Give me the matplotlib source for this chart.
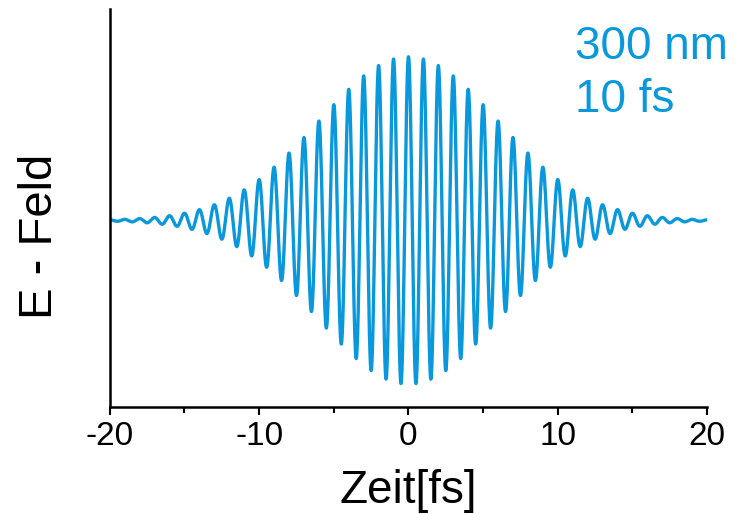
import numpy as np
import matplotlib
matplotlib.use("Agg")
import matplotlib.pyplot as plt
from matplotlib.ticker import MultipleLocator

plt.rcParams['font.family'] = ['Liberation Sans', 'DejaVu Sans']
plt.rcParams['axes.unicode_minus'] = False

# pulse parameters (from the chart's labels)
wavelength_nm = 300
duration_fs = 10          # intensity FWHM
t_start, t_stop = -20, 20
x_ticks = [-20, -10, 0, 10, 20]
blue = '#0a98dc'

c_nm_per_fs = 299.792458
period = wavelength_nm / c_nm_per_fs
t = np.linspace(t_start, t_stop, 4000)
envelope = np.exp(-2 * np.log(2) * t**2 / duration_fs**2)
field = envelope * np.cos(2 * np.pi * t / period)

fig = plt.figure(figsize=(7.42, 5.14), dpi=100)
ax = fig.add_axes([0.148, 0.208, 0.805, 0.774])
ax.plot(t, field, color=blue, lw=2.4)

ax.set_xlim(t_start, t_stop)
ax.set_ylim(-1.14, 1.29)
ax.set_xticks(x_ticks)
ax.xaxis.set_minor_locator(MultipleLocator(5))
ax.set_yticks([])
for s in ['top', 'right']:
    ax.spines[s].set_visible(False)
for s in ['left', 'bottom']:
    ax.spines[s].set_linewidth(1.8)
ax.tick_params(axis='x', which='major', length=6, width=1.5, labelsize=24, pad=4)
ax.tick_params(axis='x', which='minor', length=4, width=1.5)
ax.set_xlabel('Zeit[fs]', fontsize=33, labelpad=12)
ax.set_ylabel('E - Feld', fontsize=34)
ax.yaxis.set_label_coords(-0.08, 0.43)

fig.text(575 / 742, 1 - 59 / 514, f'{wavelength_nm} nm', color=blue, fontsize=33, va='baseline')
fig.text(575 / 742, 1 - 112 / 514, f'{duration_fs} fs', color=blue, fontsize=33, va='baseline')

fig.savefig('out.png', dpi=100)
